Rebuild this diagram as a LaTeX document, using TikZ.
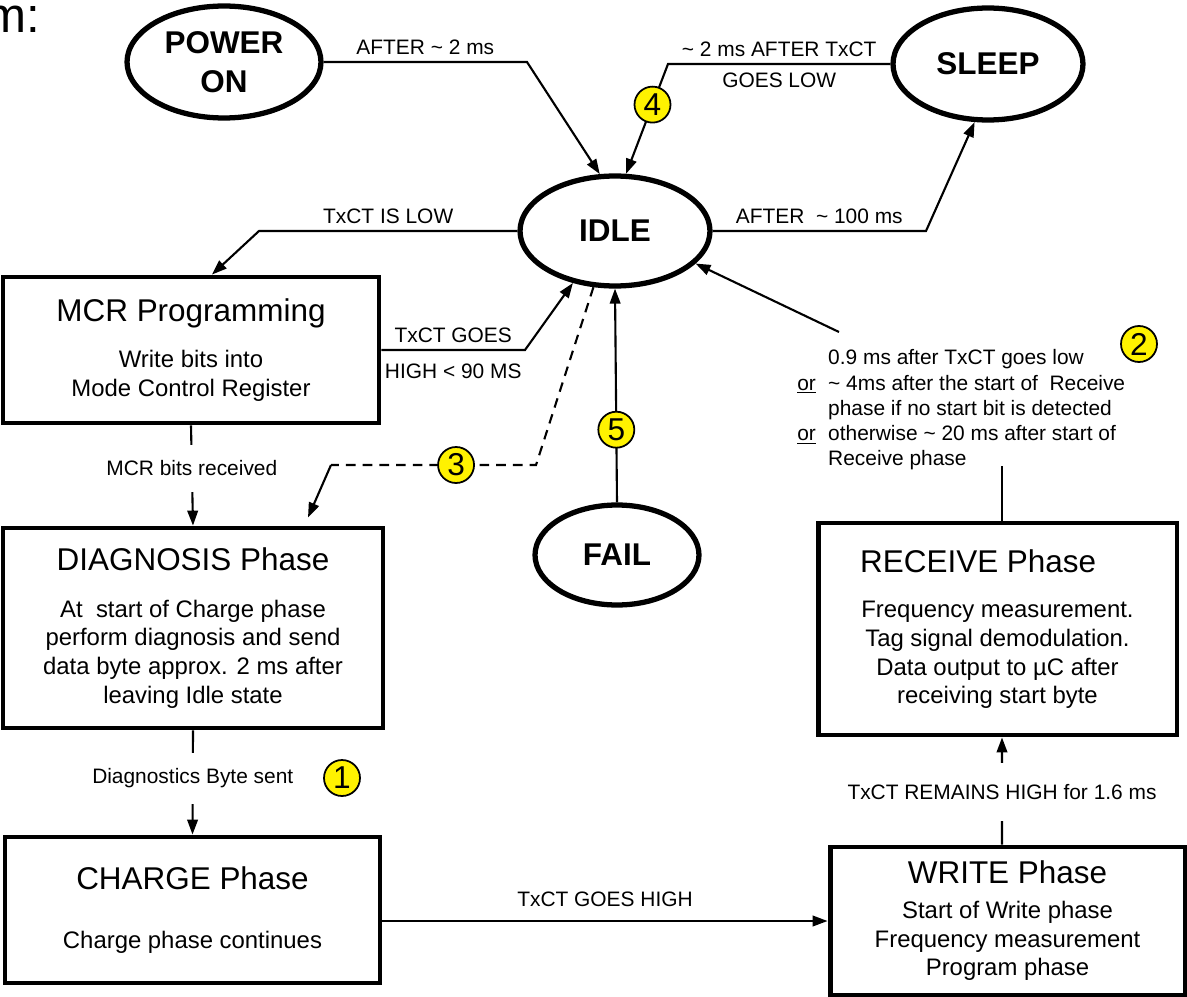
\documentclass[tikz,border=0pt]{standalone}
\usepackage{fontspec}
\setmainfont{Liberation Sans}
\usepackage{tikz}
\usetikzlibrary{shapes.geometric, arrows.meta, calc}

\newcommand{\lblfont}{\fontsize{11.9pt}{14.3pt}\selectfont}
\newcommand{\bodyfont}{\fontsize{13.6pt}{16.3pt}\selectfont}
\newcommand{\titlefont}{\fontsize{17.9pt}{21.5pt}\selectfont}
\newcommand{\statefont}{\fontsize{17.9pt}{22.5pt}\selectfont\bfseries}

\begin{document}
\begin{tikzpicture}[x=0.02cm, y=-0.02cm]
\tikzstyle{state} = [ellipse, draw=black, line width=3pt, inner sep=0pt, font=\statefont, align=center]
\tikzstyle{phase} = [rectangle, draw=black, line width=2.8pt, inner sep=0pt, font=\bodyfont, align=center]
\tikzstyle{marker} = [circle, solid, draw=black, line width=1pt, fill=yellow, minimum size=0.72cm, inner sep=0pt, font=\fontsize{18pt}{20pt}\selectfont]
\tikzstyle{arrow} = [line width=1.2pt, -{Triangle[length=8.5pt,width=6pt]}]
\tikzstyle{link} = [line width=1.2pt]
\tikzstyle{note} = [font=\lblfont]
\tikzstyle{cut} = [fill=white, inner xsep=3pt, inner ysep=9pt, font=\lblfont]

\useasboundingbox (0,0) rectangle (1187,997);

\node (head) [anchor=base west, font=\fontsize{28pt}{30pt}\selectfont] at (-21,33) {m:};

% States
\node (power) [state, minimum width=3.88cm, minimum height=2.24cm] at (224,62) {POWER\\ON};
\node (sleep) [state, minimum width=3.8cm, minimum height=2.24cm] at (988,64) {SLEEP};
\node (idle) [state, minimum width=3.8cm, minimum height=2.2cm] at (615,231) {IDLE};
\node (fail) [state, minimum width=3.28cm, minimum height=2.0cm] at (617,555) {FAIL};

% Phases
\node (mcr) [phase, minimum width=7.52cm, minimum height=2.92cm] at (191,350) {{\titlefont MCR Programming}\\[9.8pt]Write bits into\\Mode Control Register};
\node (diag) [phase, minimum width=7.6cm, minimum height=4cm] at (193,628) {{\titlefont DIAGNOSIS Phase}\\[10.2pt]At\ \ start of Charge phase\\perform diagnosis and send\\data byte approx. 2 ms after\\leaving Idle state};
\node (charge) [phase, minimum width=7.5cm, minimum height=2.92cm] at (192.5,910) {{\titlefont CHARGE Phase}\\[17.7pt]Charge phase continues};
\node (receive) [phase, minimum width=7.18cm, minimum height=4.24cm] at (997.5,629) {{\titlefont RECEIVE Phase}\hspace*{22pt}\\[9.8pt]Frequency measurement.\\Tag signal demodulation.\\Data output to µC after\\receiving start byte};
\node (write) [phase, minimum width=7.1cm, minimum height=2.96cm] at (1007.5,921) {{\titlefont WRITE Phase}\\[3.4pt]Start of Write phase\\Frequency measurement\\Program phase};

% Return condition text
\node (cond) [note, anchor=north west, inner sep=0pt] at (797,347) {\begin{tabular}{@{}l@{\hspace{7pt}}l@{}}
 & 0.9 ms after TxCT goes low\\
\underline{or} & \textasciitilde\ 4ms after the start of\ \ Receive\\
 & phase if no start bit is detected\\
\underline{or} & otherwise \textasciitilde\ 20 ms after start of\\
 & Receive phase
\end{tabular}};

\node (m1) [marker] at (342,778) {1};
\node (m2) [marker] at (1139,344) {2};

% Connections
\draw [arrow] (power.east) -- node[above, note] {AFTER \textasciitilde\ 2 ms} (527,62) -- (idle.105);
\draw [arrow] (sleep.west) -- node[above, note] {\textasciitilde\ 2 ms AFTER TxCT} node[below=1pt, note] {GOES LOW} (668,64) -- node[marker, pos=0.37] {4} (idle.79);
\draw [arrow] (idle.east) -- node[above, note] {AFTER\ \ \textasciitilde\ 100 ms} (926,231) -- (sleep.257);
\draw [arrow] (idle.west) -- node[above, note] {TxCT IS LOW} (259,231) -- ($(mcr.north)+(21,0)$);
\draw [arrow] (mcr.east) -- node[above, note] {TxCT GOES} node[below=4pt, note] {HIGH < 90 MS} (525,350) -- (idle.231);
\draw [arrow] (mcr.south) -- node[cut, pos=0.43] {MCR bits received} (diag.north);
\draw [arrow] (diag.south) -- node[cut, pos=0.46] {Diagnostics Byte sent} (charge.north);
\draw [arrow] (charge.east |- write.west) -- node[above=4pt, note] {TxCT GOES HIGH} (write.west);
\draw [arrow] ([xshift=-0.11cm]write.north) -- node[cut, inner ysep=12pt, pos=0.49] {TxCT REMAINS HIGH for 1.6 ms} ([xshift=0.09cm]receive.south);
\draw [link] ($(receive.north)+(4.5,0)$) -- ($(receive.north)+(4.5,-55)$);
\draw [arrow] ($(cond.north west)+(42,-15)$) -- (idle.338);
\draw [arrow] (fail.north) -- node[marker, pos=0.34] {5} (idle.south);

\coordinate (bend3) at (331,465);
\draw [link, dash pattern=on 5.5pt off 4pt] (idle.249) -- (536,465) -- node[marker, pos=0.39] {3} (bend3);
\draw [arrow] (bend3) -- ($(diag.north)+(115,-8)$);

\end{tikzpicture}
\end{document}
